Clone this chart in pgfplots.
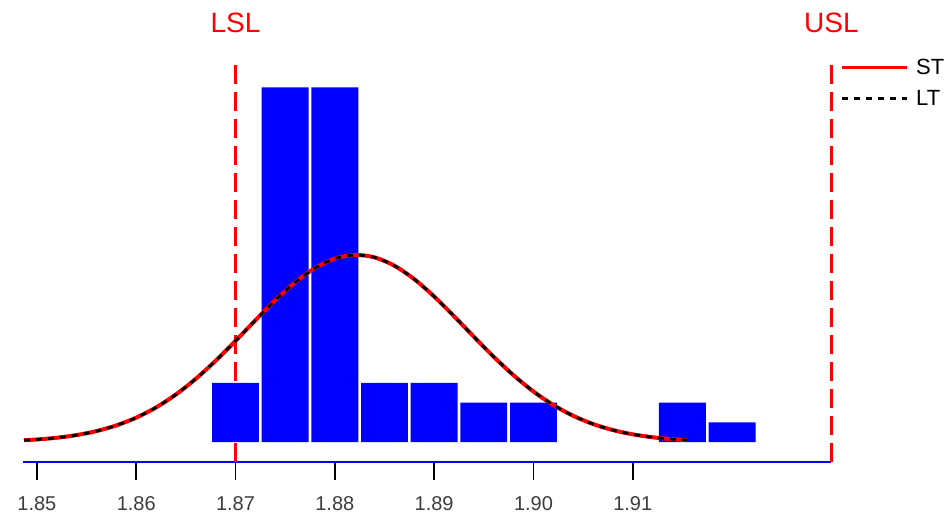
\documentclass[border=0pt]{standalone}
\usepackage{pgfplots}
\pgfplotsset{compat=1.18}
\usepackage{fontspec}
\setmainfont{Liberation Sans}
\usetikzlibrary{calc}
\definecolor{tickgray}{RGB}{60,60,60}
\definecolor{specred}{RGB}{255,0,0}
\begin{document}
\begin{tikzpicture}
\begin{axis}[name=ax, scale only axis, width=808.3pt, height=461.7pt,
  xmin=1.8486, xmax=1.93, ymin=-1, ymax=22.44,
  hide y axis, axis x line=bottom,
  x axis line style={draw=blue, line width=1.5pt, -},
  xtick={1.85,1.86,1.87,1.88,1.89,1.90,1.91},
  xticklabels={1.85,1.86,1.87,1.88,1.89,1.90,1.91},
  xtick align=outside, major tick length=18pt,
  tick style={black, line width=1.6pt},
  x tick label style={font=\fontsize{20}{24}\selectfont, text=tickgray, yshift=-13pt},
  clip=false,
  legend style={at={(axis cs:1.93,19.65)}, anchor=north west, xshift=9pt,
    draw=none, fill=none, inner xsep=0pt, font=\fontsize{22}{26}\selectfont,
    row sep=10pt, cells={anchor=west}},
]
\addplot[draw=specred, line width=2.2pt, dash pattern=on 19pt off 8pt, sharp plot, mark=none, forget plot] coordinates {(1.87,19.14) (1.87,-1)};
\addplot[draw=specred, line width=2.2pt, dash pattern=on 19pt off 8pt, sharp plot, mark=none, forget plot] coordinates {(1.93,19.14) (1.93,-1)};
\addplot[ybar, bar width=0.00472, fill=blue, draw=none, forget plot] coordinates {
 (1.870,3) (1.875,18) (1.880,18) (1.885,3) (1.890,3) (1.895,2) (1.900,2) (1.915,2) (1.920,1)};
\addplot[specred, line width=4pt, smooth, forget plot] coordinates {
 (1.8487,0.092) (1.850,0.131) (1.852,0.219) (1.854,0.355) (1.856,0.557) (1.858,0.845)
 (1.860,1.240) (1.862,1.760) (1.864,2.417) (1.866,3.212) (1.868,4.130) (1.870,5.136)
 (1.872,6.180) (1.874,7.194) (1.876,8.105) (1.878,8.832) (1.880,9.312) (1.882,9.498)
 (1.884,9.374) (1.886,8.950) (1.888,8.267) (1.890,7.388) (1.892,6.389) (1.894,5.344)
 (1.896,4.325) (1.898,3.387) (1.900,2.565) (1.902,1.880) (1.904,1.333) (1.906,0.915)
 (1.908,0.607) (1.910,0.390) (1.912,0.242) (1.914,0.145) (1.9155,0.097)};
\addplot[black, line width=2.8pt, dash pattern=on 6pt off 6pt, smooth, forget plot] coordinates {
 (1.8487,0.092) (1.850,0.131) (1.852,0.219) (1.854,0.355) (1.856,0.557) (1.858,0.845)
 (1.860,1.240) (1.862,1.760) (1.864,2.417) (1.866,3.212) (1.868,4.130) (1.870,5.136)
 (1.872,6.180) (1.874,7.194) (1.876,8.105) (1.878,8.832) (1.880,9.312) (1.882,9.498)
 (1.884,9.374) (1.886,8.950) (1.888,8.267) (1.890,7.388) (1.892,6.389) (1.894,5.344)
 (1.896,4.325) (1.898,3.387) (1.900,2.565) (1.902,1.880) (1.904,1.333) (1.906,0.915)
 (1.908,0.607) (1.910,0.390) (1.912,0.242) (1.914,0.145) (1.9155,0.097)};
\addlegendimage{legend image code/.code={\draw[specred, line width=3.2pt] (0pt,0pt) -- (65pt,0pt); \path[draw=none] (0pt,0pt) -- (72pt,0pt);}}
\addlegendentry{ST}
\addlegendimage{legend image code/.code={\draw[black, line width=3.2pt, dash pattern=on 6pt off 6pt] (0pt,0pt) -- (65pt,0pt); \path[draw=none] (0pt,0pt) -- (72pt,0pt);}}
\addlegendentry{LT}
\node[text=specred, font=\fontsize{28}{32}\selectfont] at (axis cs:1.87,21.3) {LSL};
\node[text=specred, font=\fontsize{28}{32}\selectfont] at (axis cs:1.93,21.3) {USL};
\end{axis}
\pgfresetboundingbox
\path[use as bounding box] ($(ax.south west)+(-23pt,-56.3pt)$) rectangle ($(ax.north east)+(120.6pt,0pt)$);
\end{tikzpicture}
\end{document}
